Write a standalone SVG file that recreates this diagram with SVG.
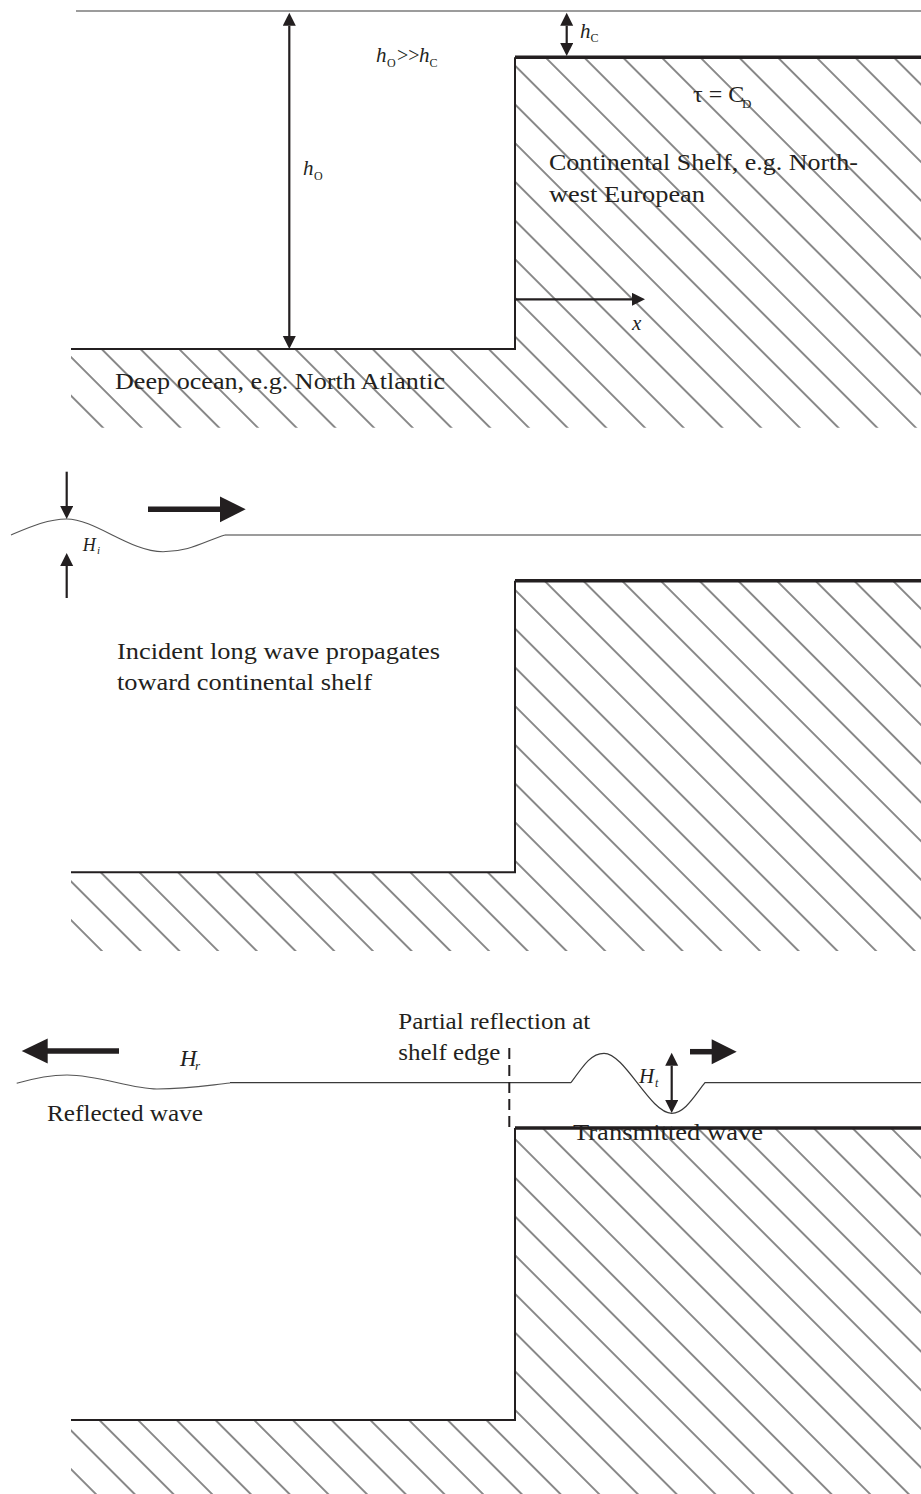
<svg xmlns="http://www.w3.org/2000/svg" width="921" height="1494" viewBox="0 0 921 1494">
<style>
.t{font-family:"Liberation Serif","Times New Roman",serif;font-size:24px;fill:#231f20}
.m{font-family:"Liberation Serif","Times New Roman",serif;font-style:italic;fill:#231f20}
.s{font-family:"Liberation Serif","Times New Roman",serif;fill:#231f20}
.bed{fill:none;stroke:#231f20;stroke-width:2}
.shelf{stroke:#231f20;stroke-width:3.6}
.surf{stroke:#3a3a3a;stroke-width:1.2;fill:none}
.wave{stroke:#555;stroke-width:1.1;fill:none}
.arr{stroke:#231f20;stroke-width:2.2;fill:none}
.big{fill:#231f20}
</style>
<defs>
<marker id="ah" markerUnits="userSpaceOnUse" markerWidth="14" markerHeight="14" refX="0" refY="6.5" orient="auto-start-reverse"><path d="M0,0 L13,6.5 L0,13 Z" fill="#231f20"/></marker>
<pattern id="hatchA" patternUnits="userSpaceOnUse" width="20" height="27.37" patternTransform="translate(42.95,0) rotate(45)"><line x1="-1" y1="13.68" x2="21" y2="13.68" stroke="#2a2a2a" stroke-width="1.1"/></pattern>
<pattern id="hatchB" patternUnits="userSpaceOnUse" width="20" height="27.37" patternTransform="translate(21.85,0) rotate(45)"><line x1="-1" y1="13.68" x2="21" y2="13.68" stroke="#2a2a2a" stroke-width="1.1"/></pattern>
<pattern id="hatchC" patternUnits="userSpaceOnUse" width="20" height="27.37" patternTransform="translate(14.65,0) rotate(45)"><line x1="-1" y1="13.68" x2="21" y2="13.68" stroke="#2a2a2a" stroke-width="1.1"/></pattern>
</defs>

<!-- Panel 1 -->
<g id="panel1-seabed">
<path d="M71,349 H515 V57.3 H921 V427.7 H71 Z" fill="url(#hatchA)"/>
<path class="bed" d="M71,349 H515 V57.3"/>
<line class="shelf" x1="515" y1="57.3" x2="921" y2="57.3"/>
</g>
<g id="panel1-surface"><line class="surf" x1="76" y1="11" x2="921" y2="11"/></g>
<g id="panel1-labels">
<text class="t" x="549" y="170" textLength="309" lengthAdjust="spacingAndGlyphs">Continental Shelf, e.g. North-</text>
<text class="t" x="549" y="202" textLength="156" lengthAdjust="spacingAndGlyphs">west European</text>
<text class="t" x="115" y="389.3" textLength="330" lengthAdjust="spacingAndGlyphs">Deep ocean, e.g. North Atlantic</text>
<text class="s" x="693" y="102" font-size="24">τ = C</text><text class="s" x="742" y="108" font-size="13">D</text>
<text class="m" x="580" y="37.5" font-size="21">h</text><text class="s" x="590.5" y="42" font-size="12">C</text>
<text class="m" x="376" y="62" font-size="21">h</text><text class="s" x="387" y="66.5" font-size="12">O</text><text class="s" x="397" y="62" font-size="20">&gt;&gt;</text><text class="m" x="419" y="62" font-size="21">h</text><text class="s" x="429.5" y="66.5" font-size="12">C</text>
<text class="m" x="303" y="175" font-size="21">h</text><text class="s" x="314" y="179.5" font-size="12">O</text>
<text class="m" x="632" y="330" font-size="21">x</text>
</g>
<g id="panel1-connectors">
<line class="arr" x1="289.3" y1="25.7" x2="289.3" y2="336" marker-start="url(#ah)" marker-end="url(#ah)"/>
<line class="arr" x1="566.7" y1="25.7" x2="566.7" y2="43" marker-start="url(#ah)" marker-end="url(#ah)"/>
<line class="arr" x1="515" y1="299.3" x2="632" y2="299.3" marker-end="url(#ah)"/>
</g>

<!-- Panel 2 -->
<g id="panel2-seabed">
<path d="M71,872.3 H515 V580.8 H921 V951 H71 Z" fill="url(#hatchB)"/>
<path class="bed" d="M71,872.3 H515 V580.8"/>
<line class="shelf" x1="515" y1="580.8" x2="921" y2="580.8"/>
</g>
<g id="panel2-surface">
<path class="wave" d="M11,535 C30,527 48,519 66.7,519 C95,519 130,551.7 163,551.7 C190,551.7 205,541 225,535"/>
<line class="surf" x1="225" y1="535" x2="921" y2="535"/>
</g>
<g id="panel2-labels">
<text class="m" x="82.7" y="550.7" font-size="18">H</text><text class="m" x="97" y="554" font-size="11">i</text>
<text class="t" x="117" y="659" textLength="323" lengthAdjust="spacingAndGlyphs">Incident long wave propagates</text>
<text class="t" x="117" y="690" textLength="255" lengthAdjust="spacingAndGlyphs">toward continental shelf</text>
</g>
<g id="panel2-connectors">
<line class="arr" x1="66.7" y1="471.7" x2="66.7" y2="506" marker-end="url(#ah)"/>
<line class="arr" x1="66.7" y1="598" x2="66.7" y2="566" marker-end="url(#ah)"/>
<line x1="148" y1="509.3" x2="221" y2="509.3" stroke="#231f20" stroke-width="5.5"/>
<polygon class="big" points="220,496.5 245.7,509.3 220,522.3"/>
</g>

<!-- Panel 3 -->
<g id="panel3-seabed">
<path d="M71,1420 H515 V1128 H921 V1494 H71 Z" fill="url(#hatchC)"/>
<path class="bed" d="M71,1420 H515 V1128"/>
<line class="shelf" x1="515" y1="1128" x2="921" y2="1128"/>
</g>
<g id="panel3-surface">
<path class="wave" d="M16.7,1083.3 C35,1078 50,1075 67,1075 C100,1075 130,1089 157,1089 C190,1089 210,1085 230,1083"/>
<line class="surf" x1="230" y1="1082.7" x2="571" y2="1082.7"/>
<path class="surf" d="M571,1082.7 C585,1063 592,1053.3 604,1053.3 C625,1053.3 650,1113.3 671.7,1113.3 C685,1113.3 695,1095 705,1082.7 L921,1082.7"/>
</g>
<g id="panel3-labels">
<text class="t" x="398.3" y="1029.3" textLength="192" lengthAdjust="spacingAndGlyphs">Partial reflection at</text>
<text class="t" x="398.3" y="1060" textLength="102" lengthAdjust="spacingAndGlyphs">shelf edge</text>
<text class="t" x="47" y="1121" textLength="156" lengthAdjust="spacingAndGlyphs">Reflected wave</text>
<text class="t" x="573" y="1140" textLength="190" lengthAdjust="spacingAndGlyphs">Transmitted wave</text>
<text class="m" x="180" y="1066" font-size="23">H</text><text class="m" x="195" y="1070" font-size="13">r</text>
<text class="m" x="639" y="1083" font-size="21">H</text><text class="m" x="655" y="1087" font-size="12">t</text>
</g>
<g id="panel3-connectors">
<line x1="509.3" y1="1048" x2="509.3" y2="1128" stroke="#231f20" stroke-width="2" stroke-dasharray="11 6"/>
<line class="arr" x1="671.7" y1="1065.7" x2="671.7" y2="1100" marker-start="url(#ah)" marker-end="url(#ah)"/>
<line x1="46.7" y1="1051" x2="119" y2="1051" stroke="#231f20" stroke-width="5.5"/>
<polygon class="big" points="21.7,1051 47.7,1038.5 47.7,1063.5"/>
<line x1="690" y1="1051.7" x2="712.7" y2="1051.7" stroke="#231f20" stroke-width="5.5"/>
<polygon class="big" points="711.7,1039.2 736.7,1051.7 711.7,1064.2"/>
</g>
</svg>
